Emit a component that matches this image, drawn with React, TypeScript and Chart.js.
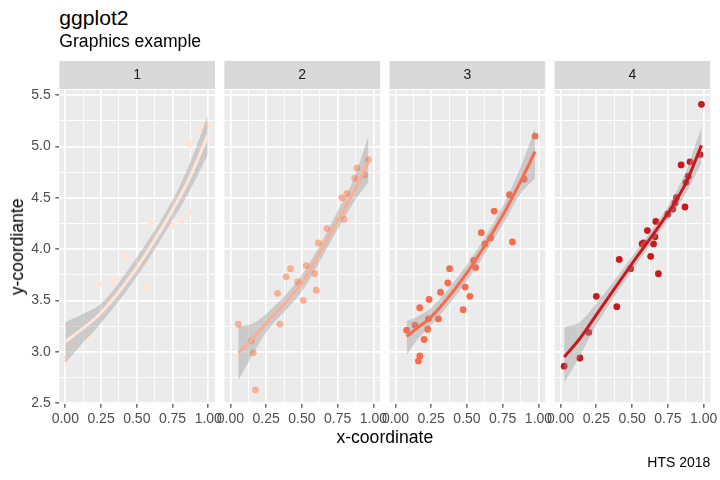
import { useEffect, useRef } from "react";
import { Chart, registerables } from "chart.js";
Chart.register(...registerables);

const FONT = '"Liberation Sans", Arial, Helvetica, sans-serif';

// ---------- data ----------
const panelLabels = ["1", "2", "3", "4"];
const panelColors = ["#FEE5D9", "#FCAE91", "#FB6A4A", "#CB181D"];

const xTicks = [0, 0.25, 0.5, 0.75, 1];
const xMinor = [0.125, 0.375, 0.625, 0.875];
const yTicks = [2.5, 3, 3.5, 4, 4.5, 5, 5.5];
const yMinor = [2.75, 3.25, 3.75, 4.25, 4.75, 5.25];
const X_MIN = -0.042;
const X_MAX = 1.047;
const Y_MIN = 2.495;
const Y_MAX = 5.549;

const p1x = [0.0, 0.026, 0.05, 0.165, 0.235, 0.24, 0.305, 0.34, 0.355, 0.43, 0.56, 0.565, 0.6, 0.747, 0.81, 0.863, 0.868, 0.933, 0.996];
const p1y = [2.93, 3.27, 3.07, 3.14, 3.33, 3.66, 3.52, 3.69, 3.7, 3.93, 3.87, 3.63, 4.26, 4.23, 4.28, 4.36, 5.02, 5.16, 5.2];

const p2x = [0.055, 0.147, 0.16, 0.175, 0.33, 0.346, 0.39, 0.42, 0.47, 0.51, 0.53, 0.59, 0.6, 0.615, 0.675, 0.78, 0.795, 0.815, 0.87, 0.885, 0.94, 0.965];
const p2y = [3.27, 3.11, 2.99, 2.63, 3.57, 3.27, 3.73, 3.81, 3.68, 3.5, 3.84, 3.76, 3.6, 4.06, 4.2, 4.5, 4.29, 4.54, 4.69, 4.79, 4.72, 4.87];

const p3x = [0.078, 0.136, 0.169, 0.16, 0.17, 0.2, 0.225, 0.23, 0.235, 0.3, 0.315, 0.366, 0.378, 0.473, 0.487, 0.52, 0.546, 0.56, 0.6, 0.625, 0.666, 0.69, 0.797, 0.818, 0.9, 0.976];
const p3y = [3.21, 3.26, 3.43, 2.91, 2.96, 3.12, 3.22, 3.32, 3.51, 3.32, 3.58, 3.67, 3.81, 3.41, 3.63, 3.54, 3.89, 3.82, 4.16, 4.05, 4.11, 4.37, 4.53, 4.07, 4.68, 5.1];

const p4x = [0.025, 0.135, 0.197, 0.25, 0.393, 0.41, 0.49, 0.57, 0.58, 0.607, 0.63, 0.65, 0.666, 0.66, 0.684, 0.75, 0.785, 0.8, 0.81, 0.87, 0.843, 0.877, 0.893, 0.905, 0.975, 0.985];
const p4y = [2.86, 2.94, 3.19, 3.54, 3.44, 3.9, 3.81, 4.05, 4.06, 4.18, 3.93, 4.05, 4.27, 4.12, 3.76, 4.34, 4.39, 4.45, 4.5, 4.41, 4.82, 4.65, 4.71, 4.85, 4.92, 5.41];

// smoothed curve and its band
const s1x = [0, 0.125, 0.25, 0.5, 0.75, 0.875, 0.996];
const fit1 = [3.1, 3.23, 3.38, 3.82, 4.38, 4.71, 5.11];
const lo1 = [2.89, 3.09, 3.28, 3.73, 4.28, 4.58, 4.92];
const hi1 = [3.29, 3.37, 3.47, 3.92, 4.48, 4.85, 5.3];

const s2x = [0.055, 0.15, 0.25, 0.5, 0.75, 0.87, 0.965];
const fit2 = [2.99, 3.12, 3.28, 3.67, 4.28, 4.58, 4.85];
const lo2 = [2.72, 2.96, 3.19, 3.59, 4.19, 4.47, 4.65];
const hi2 = [3.25, 3.27, 3.37, 3.75, 4.37, 4.71, 5.1];

const s3x = [0.078, 0.16, 0.25, 0.5, 0.75, 0.875, 0.976];
const fit3 = [3.15, 3.24, 3.34, 3.77, 4.33, 4.66, 4.95];
const lo3 = [2.97, 3.13, 3.26, 3.69, 4.24, 4.54, 4.69];
const hi3 = [3.3, 3.35, 3.43, 3.85, 4.42, 4.8, 5.18];

const s4x = [0.025, 0.135, 0.25, 0.5, 0.75, 0.875, 0.985];
const fit4 = [2.95, 3.13, 3.36, 3.86, 4.35, 4.64, 5.01];
const lo4 = [2.7, 2.96, 3.26, 3.79, 4.28, 4.54, 4.84];
const hi4 = [3.24, 3.29, 3.47, 3.93, 4.42, 4.75, 5.19];

const pointsX = [p1x, p2x, p3x, p4x];
const pointsY = [p1y, p2y, p3y, p4y];
const smoothX = [s1x, s2x, s3x, s4x];
const fits = [fit1, fit2, fit3, fit4];
const lows = [lo1, lo2, lo3, lo4];
const highs = [hi1, hi2, hi3, hi4];

// ---------- layout ----------
const PANEL_LEFT0 = 59.3;
const PANEL_STEP = 165.1;
const PANEL_W = 155.7;
const PANEL_TOP = 90;
const PANEL_BOTTOM = 403.7;
const CANVAS_TOP = 50;
const CANVAS_H = 400;
const XAXIS_H = 30;

const panelPlugin = {
  id: "panelBg",
  beforeDraw(chart: any, _args: any, opts: any) {
    const { ctx, chartArea } = chart;
    const { left, top, right, bottom } = chartArea;
    ctx.save();
    ctx.fillStyle = "#EBEBEB";
    ctx.fillRect(left, top, right - left, bottom - top);
    ctx.fillStyle = "#D9D9D9";
    ctx.fillRect(left, top - 29, right - left, 28);
    ctx.fillStyle = "#1A1A1A";
    ctx.font = `14px ${FONT}`;
    ctx.textAlign = "center";
    ctx.textBaseline = "middle";
    ctx.fillText(opts.label, (left + right) / 2, top - 14.5);
    ctx.restore();
  },
};

function geom(i: number) {
  const L = PANEL_LEFT0 + PANEL_STEP * i;
  const R = L + PANEL_W;
  const cl = i === 0 ? 0 : Math.floor(L) - 20;
  const cw = Math.ceil(R) + 20 - cl;
  return { L, R, cl, cw };
}

function makeConfig(i: number): any {
  const { L, R, cl, cw } = geom(i);
  const color = panelColors[i];
  const sx = smoothX[i];
  const isMajorX = (v: number) => xTicks.includes(v);
  const isMajorY = (v: number) => yTicks.includes(v);
  return {
    type: "line",
    data: {
      datasets: [
        {
          label: "fit",
          data: sx.map((x, k) => ({ x, y: fits[i][k] })),
          borderColor: color,
          borderWidth: 3,
          pointRadius: 0,
          cubicInterpolationMode: "monotone",
          fill: false,
          order: 1,
        },
        {
          label: "lo",
          data: sx.map((x, k) => ({ x, y: lows[i][k] })),
          borderColor: "rgba(0,0,0,0)",
          borderWidth: 0,
          pointRadius: 0,
          cubicInterpolationMode: "monotone",
          fill: false,
          order: 2,
        },
        {
          label: "hi",
          data: sx.map((x, k) => ({ x, y: highs[i][k] })),
          borderColor: "rgba(0,0,0,0)",
          borderWidth: 0,
          pointRadius: 0,
          cubicInterpolationMode: "monotone",
          fill: 1,
          backgroundColor: "rgba(153,153,153,0.4)",
          order: 2,
        },
        {
          label: "points",
          data: pointsX[i].map((x, k) => ({ x, y: pointsY[i][k] })),
          showLine: false,
          pointRadius: 3.4,
          pointBackgroundColor: color,
          pointBorderColor: color,
          pointBorderWidth: 0,
          order: 3,
        },
      ],
    },
    options: {
      animation: false,
      responsive: false,
      events: [],
      layout: {
        padding: {
          left: i === 0 ? 0 : L - cl,
          right: cl + cw - R,
          top: PANEL_TOP - CANVAS_TOP,
          bottom: CANVAS_TOP + CANVAS_H - PANEL_BOTTOM - XAXIS_H,
        },
      },
      plugins: {
        legend: { display: false },
        tooltip: { enabled: false },
        panelBg: { label: panelLabels[i] },
      },
      scales: {
        x: {
          type: "linear",
          min: X_MIN,
          max: X_MAX,
          afterBuildTicks: (s: any) => {
            s.ticks = [...xTicks, ...xMinor].sort((a, b) => a - b).map((v) => ({ value: v }));
          },
          afterFit: (s: any) => {
            s.height = XAXIS_H;
          },
          ticks: {
            autoSkip: false,
            maxRotation: 0,
            minRotation: 0,
            padding: 3,
            color: "#4D4D4D",
            font: { size: 14, family: FONT },
            callback: (v: number) => (isMajorX(v) ? v.toFixed(2) : ""),
          },
          grid: {
            color: "#FFFFFF",
            lineWidth: (c: any) => (c.tick && isMajorX(c.tick.value) ? 1.7 : 0.85),
            drawTicks: true,
            tickLength: 4,
            tickWidth: 1.1,
            tickColor: (c: any) => (c.tick && isMajorX(c.tick.value) ? "#333333" : "rgba(0,0,0,0)"),
          },
          border: { display: false },
        },
        y: {
          type: "linear",
          min: Y_MIN,
          max: Y_MAX,
          afterBuildTicks: (s: any) => {
            s.ticks = [...yTicks, ...yMinor].sort((a, b) => a - b).map((v) => ({ value: v }));
          },
          afterFit: (s: any) => {
            s.width = i === 0 ? L : 0;
          },
          ticks: {
            display: i === 0,
            autoSkip: false,
            padding: 4.5,
            color: "#4D4D4D",
            font: { size: 14, family: FONT },
            callback: (v: number) => (isMajorY(v) ? v.toFixed(1) : ""),
          },
          grid: {
            color: "#FFFFFF",
            lineWidth: (c: any) => (c.tick && isMajorY(c.tick.value) ? 1.7 : 0.85),
            drawTicks: i === 0,
            tickLength: 4,
            tickWidth: 1.1,
            tickColor: (c: any) => (c.tick && isMajorY(c.tick.value) ? "#333333" : "rgba(0,0,0,0)"),
          },
          border: { display: false },
        },
      },
    },
    plugins: [panelPlugin],
  };
}

export default function App() {
  const refs = useRef<(HTMLCanvasElement | null)[]>([]);
  useEffect(() => {
    const charts = panelLabels.map((_, i) => new Chart(refs.current[i] as HTMLCanvasElement, makeConfig(i)));
    return () => charts.forEach((c) => c.destroy());
  }, []);

  const text = (extra: any) => ({
    position: "absolute" as const,
    fontFamily: FONT,
    lineHeight: 1,
    whiteSpace: "nowrap" as const,
    margin: 0,
    ...extra,
  });

  const panelsLeft = PANEL_LEFT0;
  const panelsRight = PANEL_LEFT0 + PANEL_STEP * 3 + PANEL_W;
  const panelH = PANEL_BOTTOM - PANEL_TOP;

  return (
    <div style={{ position: "absolute", left: 0, top: 0, width: 720, height: 480, background: "#FFFFFF", overflow: "hidden" }}>
      {panelLabels.map((_, i) => {
        const { cl, cw } = geom(i);
        return (
          <canvas
            key={i}
            ref={(el) => {
              refs.current[i] = el;
            }}
            width={cw}
            height={CANVAS_H}
            style={{ position: "absolute", left: cl, top: CANVAS_TOP, width: cw, height: CANVAS_H }}
          />
        );
      })}
      <div style={text({ left: panelsLeft, top: 7.1, fontSize: 21.1, color: "#000000" })}>ggplot2</div>
      <div style={text({ left: panelsLeft, top: 33.4, fontSize: 17.6, color: "#000000" })}>Graphics example</div>
      <div
        style={text({
          left: panelsLeft,
          width: panelsRight - panelsLeft,
          textAlign: "center",
          top: 429.1,
          fontSize: 17.6,
          color: "#000000",
        })}
      >
        x-coordinate
      </div>
      <div
        style={text({
          left: 17.4 - panelH / 2,
          top: (PANEL_TOP + PANEL_BOTTOM) / 2 - 8.8,
          width: panelH,
          height: 17.6,
          lineHeight: "17.6px",
          textAlign: "center",
          fontSize: 17.6,
          color: "#000000",
          transform: "rotate(-90deg)",
          transformOrigin: "50% 50%",
        })}
      >
        y-coordiante
      </div>
      <div
        style={text({
          right: 720 - panelsRight,
          top: 455.4,
          fontSize: 14,
          color: "#000000",
          textAlign: "right",
        })}
      >
        HTS 2018
      </div>
    </div>
  );
}
